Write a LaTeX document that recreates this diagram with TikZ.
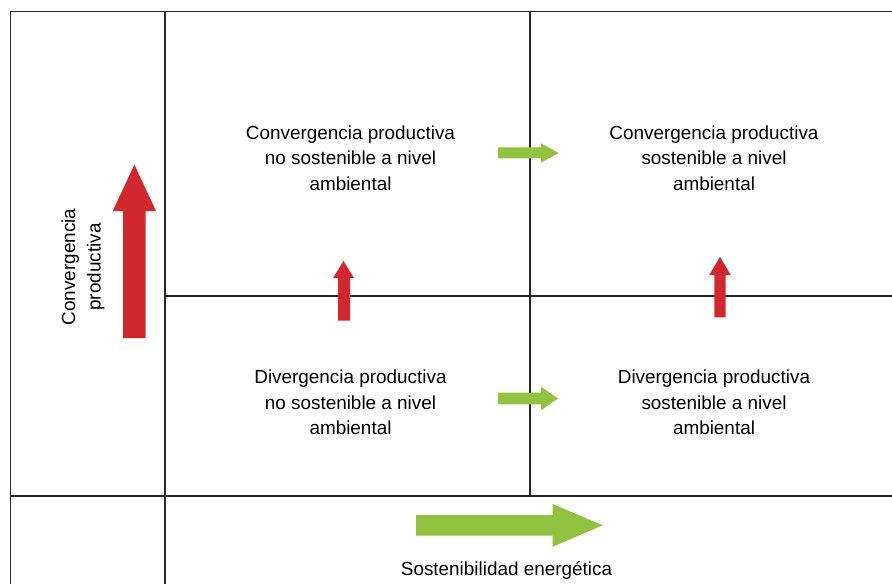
\documentclass[tikz,border=0pt]{standalone}
\usepackage{fontspec}
\setmainfont{Liberation Sans}
\usepackage{tikz}
\definecolor{arrowred}{RGB}{210,40,45}
\definecolor{arrowgreen}{RGB}{145,195,65}
\definecolor{gridgray}{RGB}{40,40,40}
\begin{document}
\begin{tikzpicture}[x=1pt,y=-1pt,gridline/.style={draw=gridgray,line width=1.3pt},redarrow/.style={fill=arrowred},greenarrow/.style={fill=arrowgreen},quadtext/.style={align=center,inner sep=0pt,font=\fontsize{18.9}{25.5}\selectfont}]
	\useasboundingbox (0,0) rectangle (892,584);
	
	% grid
	\draw[gridline] (892,11.5) -- (10.5,11.5) -- (10.5,584);
	\draw[gridline] (165,11.5) -- (165,584);
	\draw[gridline] (530,11.5) -- (530,496);
	\draw[gridline] (165,296) -- (892,296);
	\draw[gridline] (10.5,496) -- (892,496);
	
	% quadrant texts
	\node[quadtext] (tl) at (350.5,158) {Convergencia productiva\\no sostenible a nivel\\ambiental};
	\node[quadtext] (tr) at (714,158) {Convergencia productiva\\sostenible a nivel\\ambiental};
	\node[quadtext] (bl) at (350.5,402.5) {Divergencia productiva\\no sostenible a nivel\\ambiental};
	\node[quadtext] (br) at (714,402.5) {Divergencia productiva\\sostenible a nivel\\ambiental};
	\node[quadtext,rotate=90] (yaxis) at (83,267) {Convergencia\\productiva};
	\node[quadtext] (xaxis) at (506.5,570) {Sostenibilidad energética};
	
	% red arrows
	\fill[redarrow] (123,338) -- (123,211) -- (112.7,211) -- (134.4,164.7) -- (156,211) -- (145.7,211) -- (145.7,338) -- cycle;
	\fill[redarrow] (338,320.7) -- (338,278) -- (333,278) -- (343.5,261) -- (354,278) -- (350,278) -- (350,320.7) -- cycle;
	\fill[redarrow] (714.3,317.3) -- (714.3,275) -- (709.3,275) -- (720,256.7) -- (730.7,275) -- (725.7,275) -- (725.7,317.3) -- cycle;
	
	% green arrows
	\fill[greenarrow] (498,147.3) -- (541,147.3) -- (541,143.3) -- (558.7,153) -- (541,162.7) -- (541,158.3) -- (498,158.3) -- cycle;
	\fill[greenarrow] (498,392.7) -- (541,392.7) -- (541,386.7) -- (558,398.5) -- (541,410.3) -- (541,404.3) -- (498,404.3) -- cycle;
	\fill[greenarrow] (416,515) -- (552.7,515) -- (552.7,504) -- (602.7,525.3) -- (552.7,546.7) -- (552.7,535.7) -- (416,535.7) -- cycle;
\end{tikzpicture}
\end{document}
